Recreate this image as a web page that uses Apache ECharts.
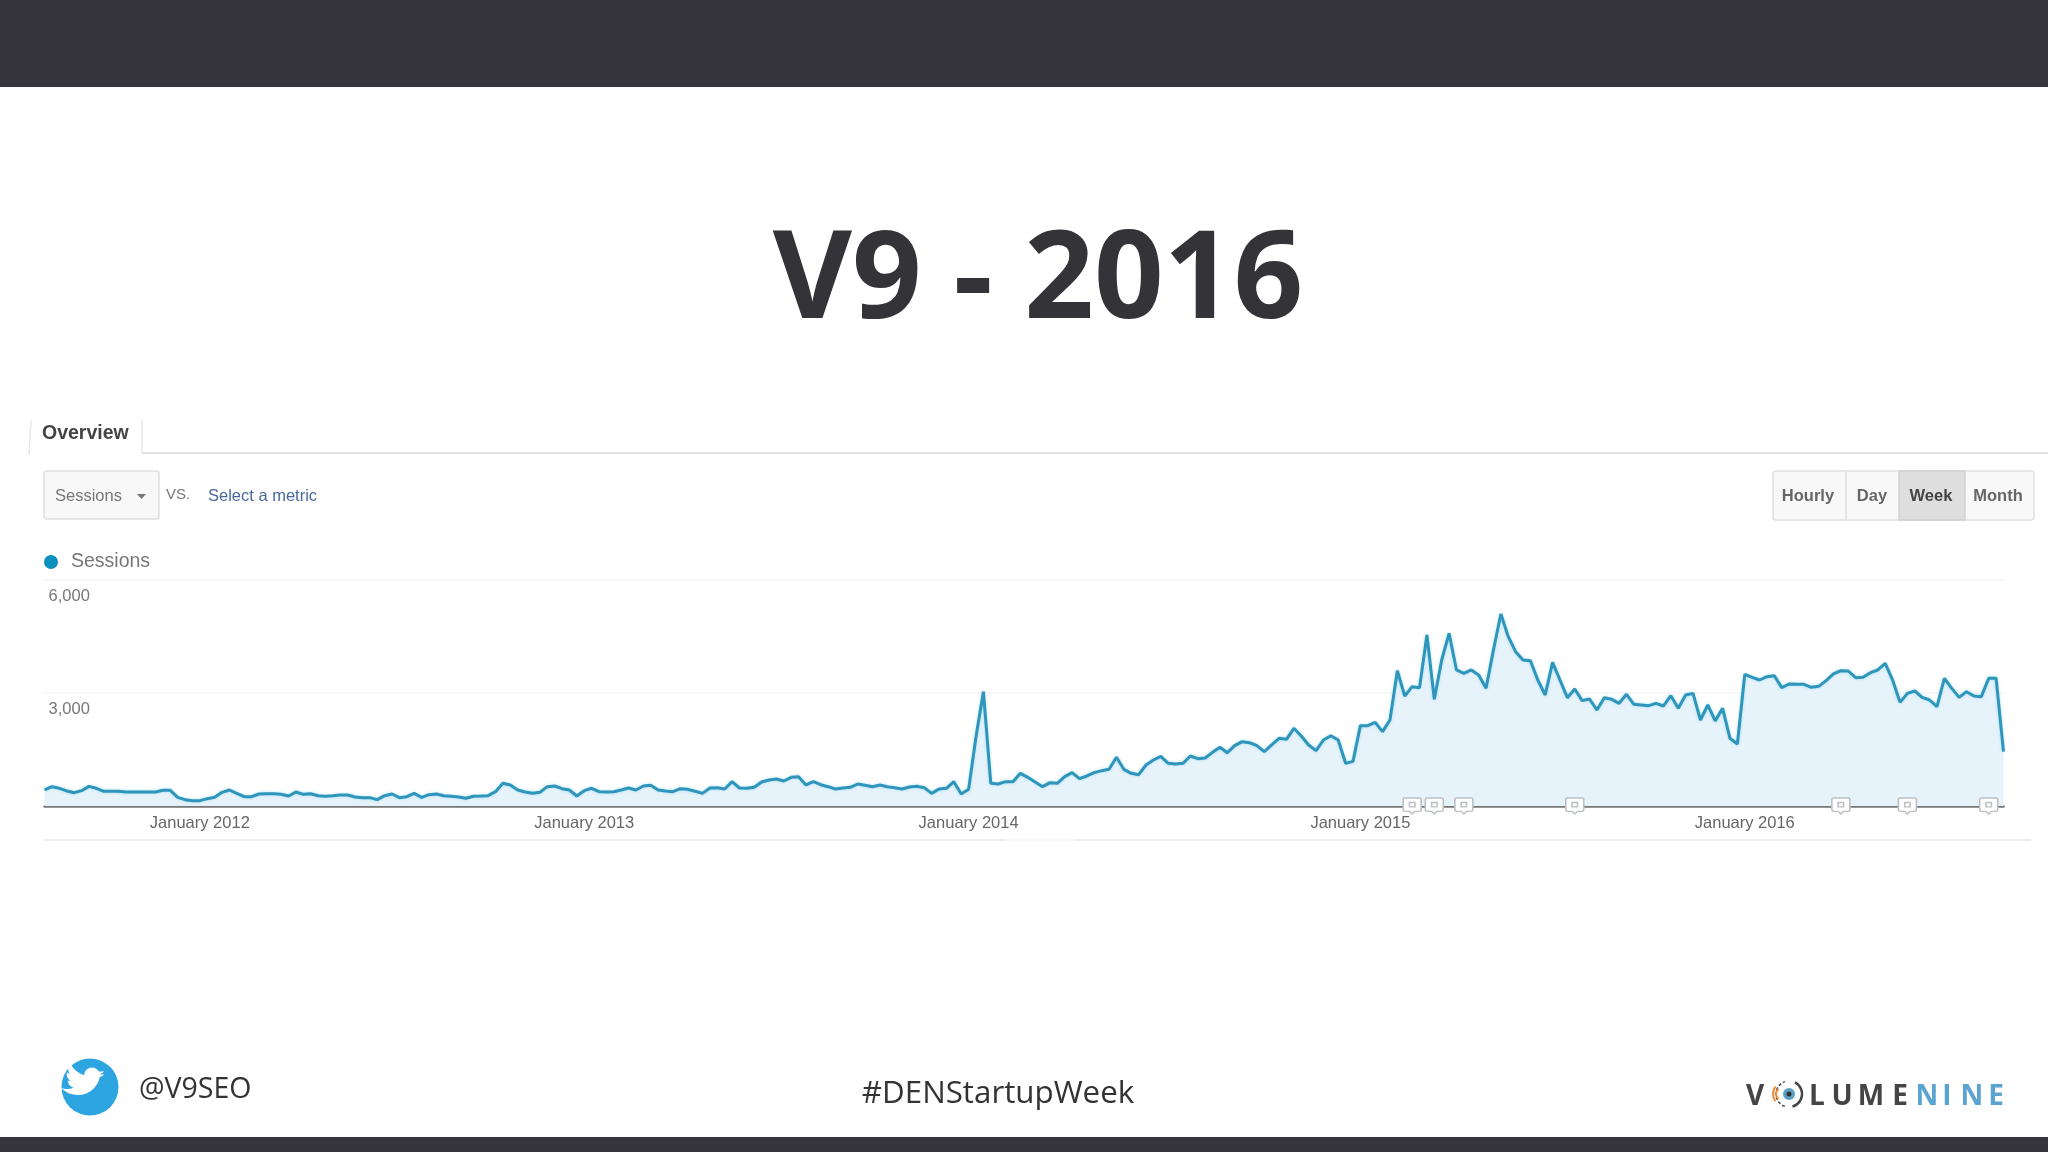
<!DOCTYPE html>
<html>
<head>
<meta charset="utf-8">
<title>V9 - 2016</title>
<script src="https://cdn.jsdelivr.net/npm/echarts@6/dist/echarts.min.js"></script>
<style>
html, body { margin: 0; padding: 0; background: #fff; }
#main { width: 2048px; height: 1152px; }
</style>
</head>
<body>
<div id="main"></div>
<script>
// weekly sessions
var sessions = [
	425, 513, 470, 400, 354, 407, 522, 470, 390, 390, 390, 372, 372, 372, 372, 372, 416, 416, 230, 168,
	142, 142, 195, 230, 363, 425, 336, 248, 248, 319, 327, 327, 310, 265, 372, 310, 327, 274, 257, 274,
	292, 292, 239, 221, 221, 168, 274, 319, 221, 248, 336, 230, 301, 319, 274, 257, 239, 204, 257, 265,
	274, 380, 602, 558, 425, 372, 336, 363, 513, 531, 460, 425, 265, 407, 470, 380, 372, 380, 425, 478,
	425, 531, 549, 425, 398, 380, 460, 442, 390, 336, 478, 487, 451, 646, 478, 469, 496, 637, 690, 717,
	664, 761, 779, 558, 646, 566, 513, 451, 478, 496, 584, 549, 513, 558, 513, 487, 451, 504, 522, 487,
	336, 451, 469, 646, 319, 442, 1840, 3035, 602, 584, 646, 646, 867, 761, 637, 513, 620, 602, 779, 885,
	726, 797, 885, 938, 974, 1292, 974, 867, 832, 1089, 1221, 1319, 1133, 1115, 1133, 1328, 1257, 1274, 1425, 1558,
	1416, 1602, 1708, 1681, 1602, 1443, 1620, 1797, 1770, 2062, 1858, 1620, 1469, 1752, 1867, 1752, 1133, 1186, 2133, 2133,
	2221, 1974, 2283, 3593, 2920, 3168, 3142, 4540, 2832, 3876, 4584, 3611, 3522, 3611, 3478, 3124, 4142, 5098, 4496, 4098,
	3876, 3858, 3345, 2947, 3814, 3345, 2876, 3106, 2797, 2841, 2549, 2876, 2832, 2726, 2965, 2699, 2682, 2664, 2726, 2655,
	2929, 2593, 2947, 2991, 2283, 2682, 2257, 2593, 1797, 1646, 3496, 3416, 3345, 3434, 3460, 3142, 3239, 3230, 3230, 3151,
	3177, 3328, 3505, 3593, 3584, 3407, 3416, 3540, 3611, 3788, 3345, 2752, 2991, 3053, 2885, 2814, 2637, 3390, 3124, 2885,
	3035, 2920, 2903, 3390, 3390, 1443
];
var tickLabels = ['January 2012', 'January 2013', 'January 2014', 'January 2015', 'January 2016'];
var tickWeeks = [21, 73, 125, 178, 230];
var annotationWeeks = [185, 188, 192, 207, 243, 252, 263];
var yTicks = [0, 3000, 6000];
var buttonLabels = ['Hourly', 'Day', 'Week', 'Month'];
var logoLetters = ['V', 'L', 'U', 'M', 'E', 'N', 'I', 'N', 'E'];

var categories = sessions.map(function (v, i) {
	var t = tickWeeks.indexOf(i);
	return t >= 0 ? tickLabels[t] : 'w' + i;
});

var dark = '#35353b';
var uiFont = '"Liberation Sans", Arial, sans-serif';
var slideFont = '"Open Sans", sans-serif';

// twitter bird, not one of the stock graphic shapes
echarts.graphic.registerShape('bird', echarts.graphic.extendPath(
	'M23.953 4.57 a10 10 0 0 1 -2.825 .775 a4.958 4.958 0 0 0 2.163 -2.723 c-.951 .555 -2.005 .959 -3.127 1.184 a4.92 4.92 0 0 0 -8.384 4.482 C7.69 8.095 4.067 6.13 1.64 3.162 a4.822 4.822 0 0 0 -.666 2.475 c0 1.71 .87 3.213 2.188 4.096 a4.904 4.904 0 0 1 -2.228 -.616 v.06 a4.923 4.923 0 0 0 3.946 4.827 a4.996 4.996 0 0 1 -2.212 .085 a4.936 4.936 0 0 0 4.604 3.417 a9.867 9.867 0 0 1 -6.102 2.105 c-.39 0 -.779 -.023 -1.17 -.067 a13.995 13.995 0 0 0 7.557 2.209 c9.053 0 13.998 -7.496 13.998 -13.985 c0 -.21 0 -.42 -.015 -.63 A9.935 9.935 0 0 0 24 4.59 z',
	{}
));

function rect(x, y, w, h, fill, stroke, r) {
	return { type: 'rect', shape: { x: x, y: y, width: w, height: h, r: r || 0 },
		style: { fill: fill, stroke: stroke || null, lineWidth: stroke ? 1.5 : 0 } };
}
function hline(x1, x2, y, color, w) {
	return { type: 'line', shape: { x1: x1, y1: y, x2: x2, y2: y }, style: { stroke: color, lineWidth: w } };
}
function label(text, x, y, size, color, weight, font, align) {
	return { type: 'text', x: x, y: y, style: { text: text, fontSize: size, fill: color,
		fontWeight: weight || 'normal', fontFamily: font || uiFont, align: align || 'left', verticalAlign: 'middle' } };
}

var elements = [
	rect(0, 0, 2048, 87, dark),
	rect(0, 1137, 2048, 15, dark),
	// tab row
	hline(142, 2048, 453, '#e2e2e2', 2),
	{ type: 'polyline', shape: { points: [[29, 455], [31, 420]] }, style: { stroke: '#e8e8e8', lineWidth: 1.5, fill: null } },
	{ type: 'line', shape: { x1: 142, y1: 420, x2: 142, y2: 453 }, style: { stroke: '#e8e8e8', lineWidth: 1.5 } },
	label('Overview', 42, 434, 19.5, '#444', 'bold'),
	// metric picker
	rect(44, 471, 115, 48, '#f8f8f8', '#dedede', 3),
	label('Sessions', 55, 496, 16.5, '#777'),
	{ type: 'polygon', shape: { points: [[137, 494], [146, 494], [141.5, 499]] }, style: { fill: '#777' } },
	label('VS.', 166, 495, 15, '#777'),
	label('Select a metric', 208, 496, 16.5, '#48689c'),
	// time buttons
	rect(1773, 471, 261, 49, '#f8f8f8', '#e0e0e0', 3),
	rect(1899, 471, 66, 49, '#dedede', '#d0d0d0', 0),
	{ type: 'line', shape: { x1: 1846, y1: 471, x2: 1846, y2: 520 }, style: { stroke: '#dcdcdc', lineWidth: 1.5 } },
	label(buttonLabels[0], 1808, 496, 16.5, '#666', 'bold', uiFont, 'center'),
	label(buttonLabels[1], 1872, 496, 16.5, '#666', 'bold', uiFont, 'center'),
	label(buttonLabels[2], 1931, 496, 16.5, '#444', 'bold', uiFont, 'center'),
	label(buttonLabels[3], 1998, 496, 16.5, '#666', 'bold', uiFont, 'center'),
	// chart bottom rule
	hline(44, 1006, 840, '#e6e6e6', 1.5),
	hline(1006, 1075, 840, '#f6f6f6', 1.5),
	hline(1075, 2031, 840, '#e6e6e6', 1.5),
	// footer
	{ type: 'circle', shape: { cx: 90, cy: 1087, r: 28.5 }, style: { fill: '#2ca5e0' } },
	{ type: 'bird', x: 71, y: 1069, scaleX: 1.6, scaleY: 1.6, rotation: -0.25, originX: 12, originY: 12, style: { fill: '#fff' } },
	label('@V9SEO', 139, 1089.5, 28.5, '#333', 'normal', slideFont),
	label('#DENStartupWeek', 998, 1094.5, 31.3, '#333', 'normal', slideFont, 'center'),
	// logo eye
	{ type: 'arc', shape: { cx: 1789, cy: 1094, r: 13, startAngle: -1.1, endAngle: 1.3 }, style: { stroke: '#444', lineWidth: 2.5, fill: null } },
	{ type: 'arc', shape: { cx: 1789, cy: 1094, r: 13, startAngle: 1.9, endAngle: 4.4 }, style: { stroke: '#444', lineWidth: 1.5, fill: null, lineDash: [3, 2] } },
	{ type: 'circle', shape: { cx: 1789, cy: 1094, r: 6 }, style: { fill: '#5a9fc4' } },
	{ type: 'circle', shape: { cx: 1789, cy: 1094, r: 2.5 }, style: { fill: '#333' } },
	{ type: 'arc', shape: { cx: 1782, cy: 1094, r: 6, startAngle: 2.2, endAngle: 4.1 }, style: { stroke: '#ec8a35', lineWidth: 2, fill: null } },
	{ type: 'arc', shape: { cx: 1785, cy: 1094, r: 12, startAngle: 2.5, endAngle: 3.8 }, style: { stroke: '#ec8a35', lineWidth: 2, fill: null } }
];

var logoX = [1755, 1817, 1842, 1871, 1900, 1927, 1947, 1972, 1996];
logoLetters.forEach(function (ch, i) {
	elements.push(label(ch, logoX[i], 1097.5, 28, i < 5 ? '#444' : '#5ba4d0', 'bold', slideFont, 'center'));
});

var myChart = echarts.init(document.getElementById('main'));

var option = {
	animation: false,
	backgroundColor: '#fff',
	title: {
		text: 'V9 - 2016',
		left: 1033,
		top: 217,
		textAlign: 'center',
		textStyle: { fontFamily: slideFont, fontSize: 122, fontWeight: 'bold', color: '#333338' }
	},
	legend: {
		left: 39,
		top: 547,
		icon: 'circle',
		itemWidth: 14,
		itemHeight: 14,
		itemGap: 6,
		selectedMode: false,
		data: [{ name: 'Sessions', itemStyle: { color: '#0b8fbd' } }],
		textStyle: { fontFamily: uiFont, fontSize: 19.5, color: '#777', padding: [0, 0, 0, 8] }
	},
	grid: { left: 44.6, right: 44.5, top: 580, height: 226 },
	xAxis: {
		type: 'category',
		boundaryGap: false,
		data: categories,
		axisLine: { lineStyle: { color: '#777', width: 2.5 } },
		axisTick: { show: false },
		axisLabel: {
			interval: function (i) { return tickWeeks.indexOf(i) >= 0; },
			fontFamily: uiFont, fontSize: 16.5, color: '#666', margin: 9
		}
	},
	yAxis: {
		type: 'value',
		min: yTicks[0],
		max: yTicks[2],
		interval: yTicks[1],
		axisLine: { show: false },
		axisTick: { show: false },
		splitLine: { lineStyle: { color: '#f4f4f4', width: 1.5 } },
		axisLabel: {
			inside: true,
			margin: 4,
			verticalAlign: 'top',
			padding: [8, 0, 0, 0],
			fontFamily: uiFont, fontSize: 16.5, color: '#777',
			formatter: function (v) { return v === 0 ? '' : echarts.format.addCommas(v); }
		}
	},
	series: [{
		name: 'Sessions',
		type: 'line',
		data: sessions,
		showSymbol: false,
		smooth: false,
		lineStyle: { color: '#2f95ba', width: 3, shadowColor: 'rgba(120,210,240,0.6)', shadowBlur: 3 },
		areaStyle: { color: '#e7f3fb', opacity: 1 },
		markPoint: {
			silent: true,
			symbol: 'path://M2 0H18Q20 0 20 2V13Q20 15 18 15H13L10 18L7 15H2Q0 15 0 13V2Q0 0 2 0ZM7 5H13V10H7Z',
			symbolSize: [18, 16],
			itemStyle: { color: '#fff', borderColor: '#bcc0c4', borderWidth: 1.5 },
			label: { show: false },
			data: annotationWeeks.map(function (w) { return { coord: [w, 0] }; })
		}
	}],
	graphic: { elements: elements }
};
myChart.setOption(option);
</script>
</body>
</html>
